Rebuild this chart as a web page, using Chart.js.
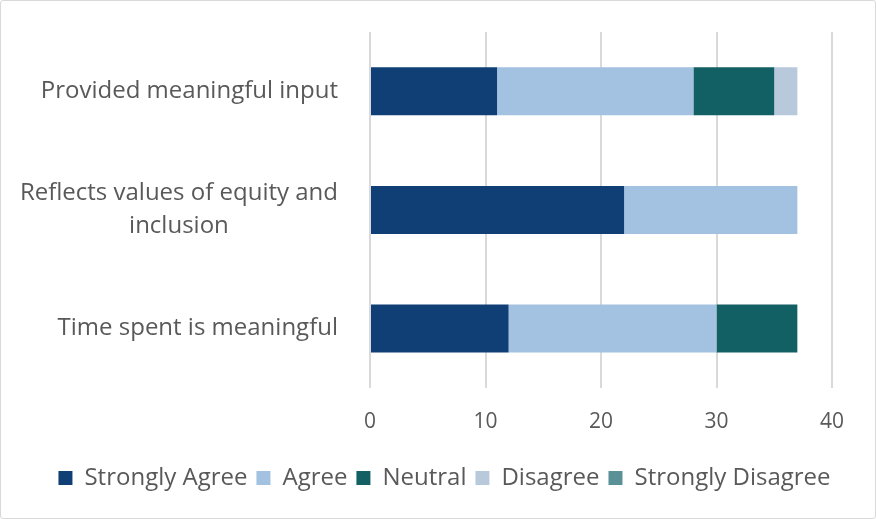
<!DOCTYPE html>
<html>
<head>
<meta charset="utf-8">
<script src="https://cdn.jsdelivr.net/npm/chart.js@4"></script>
<style>
  html, body { margin: 0; padding: 0; background: #fff; }
  #wrap {
    position: relative; width: 874px; height: 517px;
    border: 1px solid #d9d9d9; border-radius: 3px; background: #fff;
  }
</style>
</head>
<body>
<div id="wrap"><canvas id="surveyChart" width="874" height="517"></canvas></div>
<script>
var categories = [
    ['Provided meaningful input'],
    ['Reflects values of equity and', 'inclusion'],
    ['Time spent is meaningful']
];
var seriesNames = ['Strongly Agree', 'Agree', 'Neutral', 'Disagree', 'Strongly Disagree'];
var stronglyAgree    = [11, 22, 12];
var agree            = [17, 15, 18];
var neutral          = [7, 0, 7];
var disagree         = [2, 0, 0];
var stronglyDisagree = [0, 0, 0];
var xTicks = [0, 10, 20, 30, 40];

var colors = ['#0f3f74', '#a3c1e0', '#125f64', '#b8c9dc', '#5a9197'];
var textColor = '#595959';
var fontFamily = '"Open Sans", "Noto Sans", sans-serif';

// y labels: each block centred on its widest line, right edge fixed (like Excel)
var yLabelPlugin = {
    id: 'yLabels',
    afterLayout: function(chart) {
        // legend in the reference sits centred on the whole frame
        chart.legend.left += 28;
        chart.legend.right += 28;
    },
    afterDraw: function(chart) {
        var ctx = chart.ctx;
        var yScale = chart.scales.y;
        var rightEdge = chart.chartArea.left - 32;
        var lineH = 33;
        ctx.save();
        ctx.font = '24px ' + fontFamily;
        ctx.fillStyle = textColor;
        ctx.textAlign = 'center';
        ctx.textBaseline = 'middle';
        categories.forEach(function(lines, i) {
            var maxW = 0;
            lines.forEach(function(l) { maxW = Math.max(maxW, ctx.measureText(l).width); });
            var cx = rightEdge - maxW / 2;
            var cy = yScale.getPixelForValue(i);
            var startY = cy - (lines.length - 1) * lineH / 2;
            lines.forEach(function(l, j) { ctx.fillText(l, cx, startY + j * lineH); });
        });
        ctx.restore();
    }
};

var data = [stronglyAgree, agree, neutral, disagree, stronglyDisagree];
var datasets = seriesNames.map(function(name, i) {
    return {
        label: name,
        data: data[i],
        backgroundColor: colors[i],
        borderWidth: 0,
        barPercentage: 0.405,
        categoryPercentage: 1.0
    };
});

var ctx = document.getElementById('surveyChart').getContext('2d');
var surveyChart = new Chart(ctx, {
    type: 'bar',
    data: {
        labels: categories.map(function(c) { return c.join(' '); }),
        datasets: datasets
    },
    options: {
        indexAxis: 'y',
        responsive: false,
        animation: false,
        layout: { padding: { top: 31, right: 43, left: 0, bottom: 18 } },
        scales: {
            x: {
                stacked: true,
                min: 0,
                max: 40,
                afterBuildTicks: function(scale) {
                    scale.ticks = xTicks.map(function(v) { return { value: v }; });
                },
                grid: { color: '#d9d9d9', lineWidth: 2, drawTicks: false },
                border: { display: false },
                ticks: {
                    padding: 22,
                    color: textColor,
                    font: { family: fontFamily, size: 21 }
                }
            },
            y: {
                stacked: true,
                grid: { display: false },
                border: { display: false },
                ticks: { display: false },
                afterFit: function(scale) { scale.width = 369; }
            }
        },
        plugins: {
            legend: {
                position: 'bottom',
                labels: {
                    color: textColor,
                    font: { family: fontFamily, size: 24 },
                    boxWidth: 14,
                    boxHeight: 14,
                    padding: 9
                }
            },
            tooltip: { enabled: false }
        }
    },
    plugins: [yLabelPlugin]
});
</script>
</body>
</html>
